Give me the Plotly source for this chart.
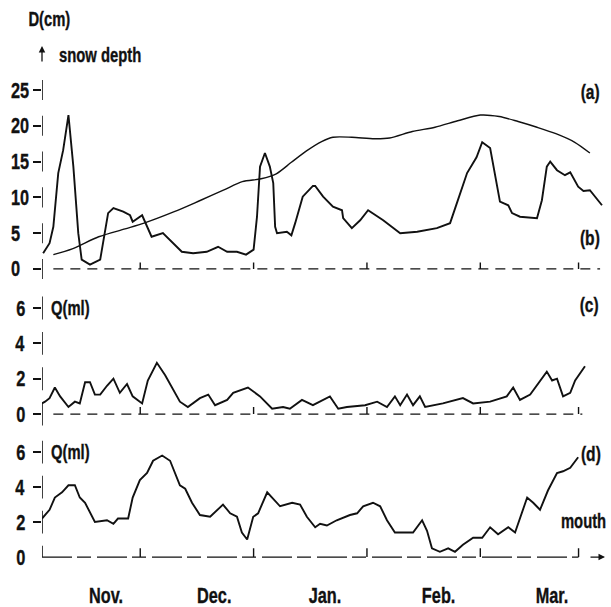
import plotly.graph_objects as go

# ---------------- data ----------------
# (a) snow depth, cm
snow_day = [3, 8, 15, 22, 27, 35, 42, 48, 53, 58, 62, 66, 70, 74, 77, 82, 88, 92,
            98, 104, 110, 116, 121, 126, 131, 136, 141, 145]
snow_cm = [2.0, 2.8, 4.5, 5.6, 6.4, 8.0, 9.6, 11.0, 12.2, 12.6, 13.3, 14.9, 16.5, 17.8,
           18.4, 18.4, 18.2, 18.3, 19.2, 19.8, 20.7, 21.5, 21.3, 20.6, 19.8, 18.9, 17.7, 16.2]

# (b) curve in the upper panel
b_day = [0.3, 2, 3, 4.3, 5.6, 7, 8.3, 9.6, 10.5, 12.7, 15.4, 16.2, 17.5, 18.9, 21.5,
         23.3, 24, 26.5, 27.8, 29, 32, 33.9, 37, 40, 43.6, 46.6, 49, 51.6, 54, 56,
         56.9, 57.7, 59, 60.3, 61.2, 61.7, 62.2, 64.8, 66, 67, 69, 71.7, 72.3, 74.4,
         77, 79.4, 79.7, 82, 84.2, 86.3, 90.3, 94.8, 99.3, 104.5, 108, 109.8, 112.5,
         115, 116.5, 118.6, 120.4, 121.2, 123.4, 124.4, 126.5, 131, 132.3, 133.6,
         134.5, 136.3, 138.4, 139.8, 141.9, 143.3, 145, 148.2]
b_cm = [2.2, 3.6, 5.9, 13.4, 16.6, 21.5, 14.3, 5.0, 1.3, 0.6, 1.3, 4.0, 7.8, 8.5, 8.0,
        7.5, 6.6, 7.5, 5.9, 4.5, 5.0, 4.0, 2.4, 2.2, 2.4, 3.1, 2.4, 2.4, 2.0, 2.7,
        7.3, 14.3, 16.2, 14.3, 12.0, 5.9, 5.0, 5.2, 4.7, 6.4, 10.1, 11.6, 11.6, 10.1,
        8.7, 8.2, 7.1, 5.7, 6.8, 8.2, 6.8, 5.0, 5.2, 5.7, 6.4, 9.2, 13.4,
        15.6, 17.7, 16.9, 12.0, 9.4, 8.9, 7.8, 7.3, 7.1, 9.6, 14.3,
        15.0, 13.8, 13.1, 13.5, 11.5, 10.9, 11.0, 8.9]

# (c) discharge Q
c_day = [0, 0.8, 2, 3.4, 4.8, 7, 8.7, 10, 11.4, 12.7, 14, 15.4, 17.2, 18.9, 20.6, 22.5,
         24, 26.5, 28, 30.4, 32.6, 34.4, 36.5, 38.6, 41.8, 44, 45.8, 49, 50.6, 54.5,
         57.7, 60.9, 63.8, 65.6, 68.8, 71.7, 76.2, 78.4, 80.7, 85.5, 88.7, 91.3, 93.4,
         94.8, 96.6, 98.2, 100, 101.4, 106.1, 111.4, 114.1, 118.6, 123, 124.7, 126.5,
         129.2, 131.8, 133.6, 135, 136.3, 137.9, 139.8, 141.1, 143.7]
c_q = [0.6, 0.7, 0.9, 1.5, 1.0, 0.4, 0.7, 0.6, 1.8, 1.8, 1.1, 1.1, 1.6, 2.0, 1.2, 1.7,
       1.0, 0.6, 1.9, 2.9, 2.2, 1.5, 0.7, 0.4, 0.9, 1.1, 0.5, 0.8, 1.2, 1.5,
       1.0, 0.3, 0.4, 0.3, 0.8, 0.5, 1.0, 0.3, 0.4, 0.5, 0.7, 0.4, 1.0,
       0.5, 1.1, 0.5, 1.0, 0.4, 0.6, 0.9, 0.6, 0.7, 1.0, 1.5, 0.8,
       1.1, 1.9, 2.4, 1.9, 2.0, 1.0, 1.2, 1.9, 2.7]

# (d) discharge Q at the mouth
d_day = [0, 2, 3.4, 5.3, 7, 8.7, 10, 11.4, 14, 17.2, 18.9, 20.1, 22.8, 24, 25.9, 27.8,
         29.4, 31.8, 33.9, 36.5, 37.9, 39.7, 41.8, 44.5, 47.9, 49.8, 51.6, 52.9, 54.3,
         55.9, 57.2, 59.6, 63, 66.2, 68.3, 70.1, 72.3, 73.6, 75.4, 78, 81.5, 83.4, 85,
         87.6, 89.5, 91.3, 93.4, 96.6, 98.2, 100.6, 101.9, 103.2, 105.3, 107.5, 109.3,
         111.4, 114.1, 116.5, 118.6, 120.7, 123.4, 125.2, 128.4, 130, 131.8, 133.9,
         136.3, 137.9, 139.8, 141.9]
d_q = [2.2, 2.7, 3.4, 3.7, 4.1, 4.1, 3.4, 3.1, 2.0, 2.1, 1.9, 2.2, 2.2, 3.4, 4.4, 4.8,
       5.5, 5.8, 5.5, 4.1, 3.9, 3.1, 2.4, 2.3, 3.0, 2.5, 2.3, 1.4, 1.0,
       2.3, 2.5, 3.7, 2.9, 3.1, 3.0, 2.3, 1.7, 1.9, 1.8, 2.1, 2.4, 2.5, 2.9,
       3.1, 2.9, 2.1, 1.4, 1.4, 1.4, 2.1, 1.5, 0.5, 0.3, 0.5, 0.3,
       0.7, 1.1, 1.1, 1.7, 1.3, 1.7, 1.4, 3.4, 3.1, 2.7, 3.8,
       4.8, 4.9, 5.1, 5.7]

month_labels = ["Nov.", "Dec.", "Jan.", "Feb.", "Mar."]
month_label_day = [17, 45.5, 75, 105, 135]
month_tick_day = [26, 56, 86, 116, 142]

a_ticks = [0, 5, 10, 15, 20, 25]
c_ticks = [0, 2, 4, 6]
d_ticks = [0, 2, 4, 6]

# ---------------- layout helpers ----------------
W, H = 611, 607
ML, MR = 42, 6
PW = W - ML - MR
FONT = "Liberation Sans, Arial, sans-serif"
BLACK = "#111111"


def px_x(px):
    return (px - ML) / PW


def px_y(py):
    return 1 - py / H


fig = go.Figure()

# panel (a)/(b)
fig.add_trace(go.Scatter(x=snow_day, y=snow_cm, mode="lines", xaxis="x", yaxis="y",
                         line=dict(color=BLACK, width=1.4, shape="spline", smoothing=0.8),
                         name="snow depth", showlegend=False))
fig.add_trace(go.Scatter(x=b_day, y=b_cm, mode="lines", xaxis="x", yaxis="y",
                         line=dict(color=BLACK, width=1.9), name="(b)", showlegend=False))
# panel (c)
fig.add_trace(go.Scatter(x=c_day, y=c_q, mode="lines", xaxis="x2", yaxis="y2",
                         line=dict(color=BLACK, width=1.9), name="(c)", showlegend=False))
# panel (d)
fig.add_trace(go.Scatter(x=d_day, y=d_q, mode="lines", xaxis="x3", yaxis="y3",
                         line=dict(color=BLACK, width=1.9), name="(d)", showlegend=False))

xcommon = dict(range=[0, 149], visible=False, showgrid=False, zeroline=False)


def yax(rng, dom, ticks):
    return dict(range=rng, domain=dom, tickvals=ticks, showticklabels=False,
                ticks="outside", ticklen=8, tickwidth=1.5, tickcolor=BLACK,
                showline=False, showgrid=False, zeroline=False)


fig.update_layout(
    width=W, height=H,
    margin=dict(l=ML, r=MR, t=0, b=0),
    paper_bgcolor="white", plot_bgcolor="white",
    xaxis=dict(xcommon, anchor="y"),
    xaxis2=dict(xcommon, anchor="y2"),
    xaxis3=dict(xcommon, anchor="y3"),
    yaxis=yax([-1.5, 27], [px_y(279.7), px_y(75.7)], a_ticks),
    yaxis2=yax([-0.7, 6.8], [px_y(426.4), px_y(293.9)], c_ticks),
    yaxis3=yax([-0.7, 6.8], [px_y(569.3), px_y(438.0)], [t for t in d_ticks if t > 0]),
    showlegend=False,
)

shapes = []
# broken vertical axis pieces at each tick
for ticks, yref, half, start_zero in [(a_ticks, "y", 1.4, False),
                                      (c_ticks, "y2", 0.65, False),
                                      (d_ticks, "y3", 0.65, True)]:
    for t in ticks:
        y0 = t if (start_zero and t == 0) else t - half
        shapes.append(dict(type="line", xref="x", yref=yref, x0=0, x1=0, y0=y0, y1=t + half,
                           line=dict(color=BLACK, width=1.6)))

# dashed zero baselines
for xref, yref, xs, xe, dash in [("x", "y", 3, 147.7, "10px,7px"),
                                 ("x2", "y2", 3, 143, "10px,7px"),
                                 ("x3", "y3", 0, 142, "30px,5px,14px,6px")]:
    shapes.append(dict(type="line", xref=xref, yref=yref, x0=xs, x1=xe, y0=0, y1=0,
                       line=dict(color=BLACK, width=1.3, dash=dash)))

# month tick marks on the baselines
for xref, yref, h in [("x", "y", 0.9), ("x2", "y2", 0.4), ("x3", "y3", 0.5)]:
    for d in month_tick_day:
        shapes.append(dict(type="line", xref=xref, yref=yref, x0=d, x1=d, y0=0, y1=h,
                           line=dict(color=BLACK, width=1.4)))
fig.update_layout(shapes=shapes)

ann = []


def tfont(size):
    return dict(family=FONT, size=size, color=BLACK, weight="bold")


# tick labels
for t in a_ticks:
    ann.append(dict(xref="paper", yref="y", x=px_x(9), y=t, text=str(t), align="left",
                    showarrow=False, xanchor="left", yanchor="middle", font=tfont(22)))
for t in c_ticks:
    ann.append(dict(xref="paper", yref="y2", x=px_x(27), y=t, text=str(t), align="right",
                    showarrow=False, xanchor="right", yanchor="middle", font=tfont(22)))
for t in d_ticks:
    ann.append(dict(xref="paper", yref="y3", x=px_x(27), y=t, text=str(t), align="right",
                    showarrow=False, xanchor="right", yanchor="middle", font=tfont(22)))
# month labels
for lab, d in zip(month_labels, month_label_day):
    ann.append(dict(xref="x3", yref="paper", x=d, y=px_y(595), text=lab, align="center",
                    showarrow=False, xanchor="center", yanchor="middle", font=tfont(22)))


def txt(text, px, py, anchor="left", size=21):
    ann.append(dict(xref="paper", yref="paper", x=px_x(px), y=px_y(py), text=text,
                    showarrow=False, xanchor=anchor, align=anchor, yanchor="middle",
                    font=tfont(size)))


txt("D(cm)", 49, 19, "center", 20)
txt("snow depth", 57, 55, "left", 20)
txt("(a)", 602, 91, "right")
txt("(b)", 602, 237, "right")
txt("(c)", 601, 304, "right")
txt("(d)", 603, 453, "right")
txt("Q(ml)", 49, 308, "left", 20)
txt("Q(ml)", 49, 452, "left", 20)
txt("mouth", 583, 521, "center", 20)

# the small upward arrow before "snow depth"
ann.append(dict(xref="paper", yref="paper", x=px_x(42), y=px_y(46), ax=0, ay=17,
                axref="pixel", ayref="pixel", text="", showarrow=True, arrowhead=2,
                arrowsize=1, arrowwidth=1.3, arrowcolor=BLACK))
# arrow at the end of the bottom axis
ann.append(dict(xref="x3", yref="y3", x=149, y=0, ax=-16, ay=0, axref="pixel", ayref="pixel",
                text="", showarrow=True, arrowhead=2, arrowsize=1, arrowwidth=1.3,
                arrowcolor=BLACK))
fig.update_layout(annotations=ann)

# remove the page's default body margin and narrow the (condensed, typewriter-like) lettering
post = """
document.body.style.margin = '0';
document.body.style.overflow = 'hidden';
function squeezeText() {
  document.querySelectorAll('.annotation-text').forEach(function (t) {
    if (t.getAttribute('data-sq')) return;
    var w = t.getComputedTextLength();
    if (w > 0 && t.textContent.trim().length > 0) {
      t.setAttribute('textLength', (w * 0.74).toFixed(1));
      t.setAttribute('lengthAdjust', 'spacingAndGlyphs');
      t.style.stroke = '#111111';
      t.style.strokeWidth = '0.35px';
      t.setAttribute('data-sq', '1');
    }
  });
}
squeezeText();
"""
fig.write_html("out.html", post_script=post, config={"displayModeBar": False})
